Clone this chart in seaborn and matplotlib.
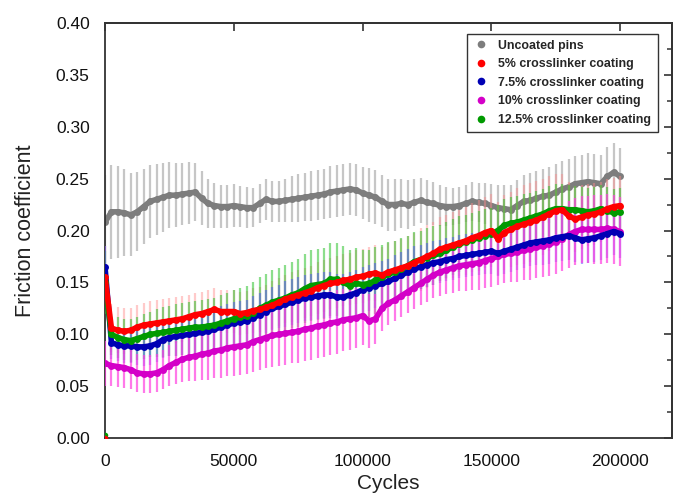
import matplotlib
matplotlib.use("Agg")
import matplotlib.pyplot as plt
from matplotlib.lines import Line2D
from matplotlib.ticker import MultipleLocator
import seaborn as sns
import pandas as pd

# ---------------- data ----------------
cycles = list(range(0, 200001, 2500))  # 81 sample positions

uncoated = [
    0.208, 0.218, 0.218, 0.217, 0.215, 0.218, 0.223, 0.228, 0.230, 0.232,
    0.234, 0.234, 0.235, 0.236, 0.237, 0.231, 0.226, 0.224, 0.223, 0.223,
    0.224, 0.223, 0.222, 0.222, 0.226, 0.230, 0.228, 0.228, 0.229, 0.230,
    0.231, 0.232, 0.233, 0.234, 0.235, 0.237, 0.238, 0.239, 0.240, 0.239,
    0.236, 0.234, 0.232, 0.228, 0.225, 0.225, 0.226, 0.225, 0.227, 0.229,
    0.227, 0.226, 0.224, 0.223, 0.223, 0.224, 0.226, 0.228, 0.227, 0.226,
    0.224, 0.222, 0.221, 0.220, 0.224, 0.228, 0.229, 0.231, 0.233, 0.234,
    0.237, 0.240, 0.242, 0.245, 0.246, 0.247, 0.246, 0.245, 0.252, 0.256,
    0.252]
uncoated_err = [
    0.045, 0.045, 0.044, 0.042, 0.040, 0.038, 0.036, 0.035, 0.034, 0.033,
    0.032, 0.031, 0.030, 0.030, 0.028, 0.026, 0.024, 0.022, 0.021, 0.021,
    0.021, 0.020, 0.020, 0.019, 0.019, 0.020, 0.020, 0.020, 0.021, 0.022,
    0.023, 0.023, 0.024, 0.024, 0.024, 0.025, 0.025, 0.025, 0.025, 0.025,
    0.025, 0.026, 0.026, 0.025, 0.025, 0.025, 0.024, 0.024, 0.023, 0.022,
    0.022, 0.021, 0.020, 0.019, 0.018, 0.018, 0.018, 0.019, 0.019, 0.020,
    0.021, 0.022, 0.023, 0.024, 0.025, 0.025, 0.026, 0.026, 0.026, 0.027,
    0.027, 0.027, 0.027, 0.027, 0.027, 0.028, 0.028, 0.028, 0.028, 0.028,
    0.027]

c5 = [
    0.155, 0.106, 0.104, 0.103, 0.104, 0.107, 0.109, 0.110, 0.111, 0.112,
    0.113, 0.114, 0.115, 0.117, 0.119, 0.120, 0.122, 0.124, 0.122, 0.122,
    0.122, 0.120, 0.121, 0.123, 0.124, 0.126, 0.128, 0.131, 0.134, 0.136,
    0.138, 0.140, 0.142, 0.145, 0.147, 0.149, 0.150, 0.152, 0.153, 0.155,
    0.156, 0.158, 0.159, 0.157, 0.160, 0.162, 0.164, 0.166, 0.169, 0.172,
    0.175, 0.178, 0.182, 0.184, 0.186, 0.188, 0.190, 0.193, 0.195, 0.198,
    0.200, 0.192, 0.198, 0.201, 0.204, 0.206, 0.208, 0.210, 0.213, 0.216,
    0.219, 0.220, 0.214, 0.211, 0.213, 0.215, 0.216, 0.218, 0.221, 0.223,
    0.224]
c5_err = [
    0.030, 0.023, 0.022, 0.022, 0.021, 0.021, 0.021, 0.022, 0.022, 0.022,
    0.022, 0.022, 0.022, 0.021, 0.021, 0.021, 0.021, 0.021, 0.021, 0.021,
    0.021, 0.021, 0.021, 0.022, 0.022, 0.022, 0.023, 0.023, 0.023, 0.024,
    0.024, 0.024, 0.024, 0.025, 0.025, 0.025, 0.025, 0.025, 0.025, 0.026,
    0.026, 0.026, 0.027, 0.027, 0.028, 0.028, 0.028, 0.029, 0.029, 0.030,
    0.030, 0.030, 0.031, 0.031, 0.032, 0.032, 0.033, 0.033, 0.034, 0.034,
    0.035, 0.035, 0.036, 0.036, 0.037, 0.038, 0.038, 0.038, 0.037, 0.036,
    0.035, 0.034, 0.033, 0.032, 0.031, 0.030, 0.030, 0.029, 0.029, 0.028,
    0.028]

c75 = [
    0.165, 0.092, 0.090, 0.089, 0.089, 0.088, 0.088, 0.089, 0.091, 0.095,
    0.097, 0.098, 0.099, 0.100, 0.101, 0.102, 0.103, 0.105, 0.107, 0.109,
    0.111, 0.112, 0.113, 0.116, 0.119, 0.122, 0.125, 0.127, 0.129, 0.131,
    0.133, 0.135, 0.136, 0.137, 0.138, 0.138, 0.136, 0.136, 0.138, 0.140,
    0.143, 0.145, 0.147, 0.149, 0.151, 0.154, 0.157, 0.160, 0.163, 0.165,
    0.167, 0.169, 0.170, 0.172, 0.173, 0.175, 0.176, 0.177, 0.178, 0.179,
    0.180, 0.178, 0.180, 0.182, 0.184, 0.186, 0.188, 0.189, 0.190, 0.191,
    0.193, 0.194, 0.195, 0.193, 0.191, 0.192, 0.193, 0.195, 0.197, 0.199,
    0.197]
c75_err = [
    0.020, 0.016, 0.016, 0.017, 0.017, 0.017, 0.018, 0.018, 0.018, 0.018,
    0.018, 0.019, 0.019, 0.019, 0.019, 0.019, 0.019, 0.020, 0.020, 0.020,
    0.020, 0.020, 0.020, 0.021, 0.021, 0.021, 0.021, 0.021, 0.022, 0.022,
    0.022, 0.022, 0.022, 0.022, 0.022, 0.022, 0.022, 0.022, 0.022, 0.022,
    0.022, 0.022, 0.022, 0.022, 0.022, 0.022, 0.022, 0.022, 0.022, 0.021,
    0.021, 0.021, 0.021, 0.021, 0.021, 0.021, 0.021, 0.021, 0.021, 0.021,
    0.022, 0.022, 0.022, 0.022, 0.022, 0.022, 0.022, 0.022, 0.023, 0.023,
    0.023, 0.023, 0.023, 0.023, 0.023, 0.023, 0.023, 0.023, 0.023, 0.023,
    0.023]

c10 = [
    0.072, 0.070, 0.069, 0.068, 0.066, 0.063, 0.062, 0.062, 0.063, 0.066,
    0.070, 0.073, 0.076, 0.078, 0.079, 0.081, 0.082, 0.084, 0.085, 0.087,
    0.088, 0.089, 0.090, 0.093, 0.095, 0.097, 0.099, 0.100, 0.101, 0.102,
    0.103, 0.105, 0.106, 0.108, 0.109, 0.111, 0.112, 0.114, 0.115, 0.116,
    0.118, 0.113, 0.115, 0.125, 0.130, 0.133, 0.137, 0.141, 0.145, 0.149,
    0.153, 0.157, 0.160, 0.162, 0.164, 0.166, 0.167, 0.168, 0.169, 0.171,
    0.173, 0.175, 0.177, 0.178, 0.179, 0.181, 0.182, 0.184, 0.185, 0.187,
    0.189, 0.192, 0.196, 0.199, 0.201, 0.201, 0.201, 0.201, 0.202, 0.201,
    0.199]
c10_err = [
    0.022, 0.020, 0.020, 0.020, 0.019, 0.018, 0.018, 0.018, 0.018, 0.019,
    0.020, 0.021, 0.022, 0.023, 0.024, 0.025, 0.026, 0.026, 0.027, 0.027,
    0.028, 0.028, 0.028, 0.029, 0.029, 0.029, 0.030, 0.030, 0.030, 0.030,
    0.031, 0.031, 0.031, 0.031, 0.031, 0.031, 0.031, 0.030, 0.030, 0.029,
    0.028, 0.026, 0.024, 0.022, 0.021, 0.020, 0.020, 0.020, 0.021, 0.021,
    0.022, 0.022, 0.023, 0.023, 0.024, 0.024, 0.025, 0.025, 0.026, 0.026,
    0.027, 0.027, 0.028, 0.028, 0.029, 0.029, 0.030, 0.030, 0.030, 0.031,
    0.031, 0.031, 0.032, 0.032, 0.032, 0.032, 0.033, 0.033, 0.033, 0.033,
    0.033]

c125 = [
    0.150, 0.100, 0.097, 0.095, 0.094, 0.096, 0.098, 0.100, 0.101, 0.102,
    0.103, 0.104, 0.105, 0.106, 0.107, 0.107, 0.108, 0.109, 0.111, 0.113,
    0.115, 0.117, 0.118, 0.121, 0.125, 0.128, 0.131, 0.133, 0.135, 0.138,
    0.140, 0.144, 0.147, 0.148, 0.149, 0.153, 0.153, 0.150, 0.147, 0.149,
    0.148, 0.149, 0.152, 0.155, 0.158, 0.160, 0.163, 0.166, 0.170, 0.172,
    0.174, 0.176, 0.178, 0.181, 0.184, 0.187, 0.189, 0.191, 0.193, 0.195,
    0.197, 0.200, 0.205, 0.207, 0.208, 0.210, 0.212, 0.214, 0.216, 0.219,
    0.221, 0.221, 0.220, 0.220, 0.219, 0.218, 0.219, 0.221, 0.219, 0.217,
    0.218]
c125_err = [
    0.030, 0.020, 0.020, 0.020, 0.021, 0.021, 0.022, 0.022, 0.023, 0.024,
    0.024, 0.025, 0.025, 0.025, 0.025, 0.026, 0.026, 0.026, 0.027, 0.027,
    0.028, 0.028, 0.029, 0.029, 0.030, 0.030, 0.031, 0.031, 0.032, 0.032,
    0.033, 0.033, 0.034, 0.034, 0.034, 0.035, 0.035, 0.035, 0.034, 0.034,
    0.033, 0.032, 0.032, 0.031, 0.031, 0.030, 0.030, 0.029, 0.029, 0.028,
    0.028, 0.028, 0.027, 0.027, 0.027, 0.027, 0.026, 0.026, 0.026, 0.026,
    0.025, 0.025, 0.025, 0.025, 0.025, 0.025, 0.024, 0.024, 0.024, 0.024,
    0.024, 0.024, 0.024, 0.023, 0.023, 0.023, 0.023, 0.023, 0.023, 0.023,
    0.023]

# isolated points recorded at cycle 0 with zero friction
zero_cycles = [0]
zero_c5 = [0.0]
zero_c125 = [0.003]

labels = ["Uncoated pins", "5% crosslinker coating", "7.5% crosslinker coating",
          "10% crosslinker coating", "12.5% crosslinker coating"]
x_ticks = [0, 50000, 100000, 150000, 200000]
y_ticks = [0.00, 0.05, 0.10, 0.15, 0.20, 0.25, 0.30, 0.35, 0.40]

# ---------------- styling ----------------
sns.set_style("white")
plt.rcParams["font.family"] = ["Liberation Sans", "DejaVu Sans"]

series = {
    labels[0]: (uncoated, uncoated_err, "#7d7d7d", "#a8a8a8", 0.65),
    labels[1]: (c5, c5_err, "#ff0000", "#ff8a8a", 0.45),
    labels[4]: (c125, c125_err, "#009a00", "#2ec42e", 0.55),
    labels[2]: (c75, c75_err, "#0000b4", "#4d4dff", 0.50),
    labels[3]: (c10, c10_err, "#d400c8", "#ff40e0", 0.70),
}
EW = 1.6

fig = plt.figure(figsize=(6.81, 4.97), dpi=100)
ax = fig.add_axes([0.1542, 0.1181, 0.8322, 0.8362])

df = pd.DataFrame({"cycles": cycles})
for name, (vals, err, _, _, _) in series.items():
    df[name] = vals

# error bars (behind), then gray markers above gray bars
name0 = labels[0]
v, e, mc, ec, a = series[name0]
ax.errorbar(cycles, v, yerr=e, fmt="none", ecolor=ec, elinewidth=EW, alpha=a,
            capsize=0, zorder=1)
sns.lineplot(data=df, x="cycles", y=name0, ax=ax, color=mc, linewidth=4.0,
             marker="o", markersize=5, markeredgewidth=0, zorder=2)

for name in [labels[1], labels[4], labels[2], labels[3]]:
    v, e, mc, ec, a = series[name]
    ax.errorbar(cycles, v, yerr=e, fmt="none", ecolor=ec, elinewidth=EW,
                alpha=a, capsize=0, zorder=3)

for name, z in [(labels[3], 4), (labels[2], 5), (labels[4], 6), (labels[1], 7)]:
    v, e, mc, ec, a = series[name]
    sns.lineplot(data=df, x="cycles", y=name, ax=ax, color=mc, linewidth=4.0,
                 marker="o", markersize=5, markeredgewidth=0, zorder=z)

sns.scatterplot(x=zero_cycles, y=zero_c125, ax=ax, color="#009a00", s=16,
                linewidth=0, zorder=8)
sns.scatterplot(x=zero_cycles, y=zero_c5, ax=ax, color="#ff0000", s=16,
                linewidth=0, zorder=8)

ax.set_xlim(0, 220000)
ax.set_ylim(0, 0.40)
ax.set_xticks(x_ticks)
ax.set_xticklabels([str(t) for t in x_ticks])
ax.set_yticks(y_ticks)
ax.set_yticklabels([f"{t:.2f}" for t in y_ticks])
ax.yaxis.set_minor_locator(MultipleLocator(0.025))

ax.set_xlabel("Cycles", fontsize=15, labelpad=4, color="#222222")
ax.set_ylabel("Friction coefficient", fontsize=15.5, labelpad=14,
              color="#222222")

ax.tick_params(axis="both", which="major", direction="out", length=7,
               width=1.2, labelsize=12.5, colors="#333333", labelcolor="#111111",
               pad=4)
ax.tick_params(axis="y", which="minor", direction="out", length=4, width=1.1,
               colors="#333333")
ax.tick_params(top=False, right=False)

for s in ax.spines.values():
    s.set_visible(True)
    s.set_color("#333333")
    s.set_linewidth(1.3)

top = ax.secondary_xaxis("top")
top.set_xticks(x_ticks)
top.tick_params(direction="in", length=6, width=1.2, colors="#333333",
                labeltop=False)
top.spines["top"].set_color("#333333")
top.spines["top"].set_linewidth(1.3)

right = ax.secondary_yaxis("right")
right.set_yticks(y_ticks)
right.yaxis.set_minor_locator(MultipleLocator(0.025))
right.tick_params(which="major", direction="in", length=6, width=1.2,
                  colors="#333333", labelright=False)
right.tick_params(which="minor", direction="in", length=3.5, width=1.1,
                  colors="#333333")
right.spines["right"].set_color("#333333")
right.spines["right"].set_linewidth(1.3)

handles = [Line2D([], [], marker="o", linestyle="none", markersize=5.5,
                  markeredgewidth=0, color=c)
           for c in ["#7d7d7d", "#ff0000", "#0000b4", "#d400c8", "#009a00"]]
leg = ax.legend(handles, labels, loc="upper right",
                bbox_to_anchor=(0.975, 0.974), frameon=True, fancybox=False,
                edgecolor="#333333", framealpha=1, handlelength=1.3,
                handletextpad=0.75, labelspacing=0.53, borderpad=0.5,
                borderaxespad=0, prop={"weight": "bold", "size": 8.9})
leg.get_frame().set_linewidth(1.0)
leg.set_zorder(20)

fig.savefig("out.png", dpi=100)
